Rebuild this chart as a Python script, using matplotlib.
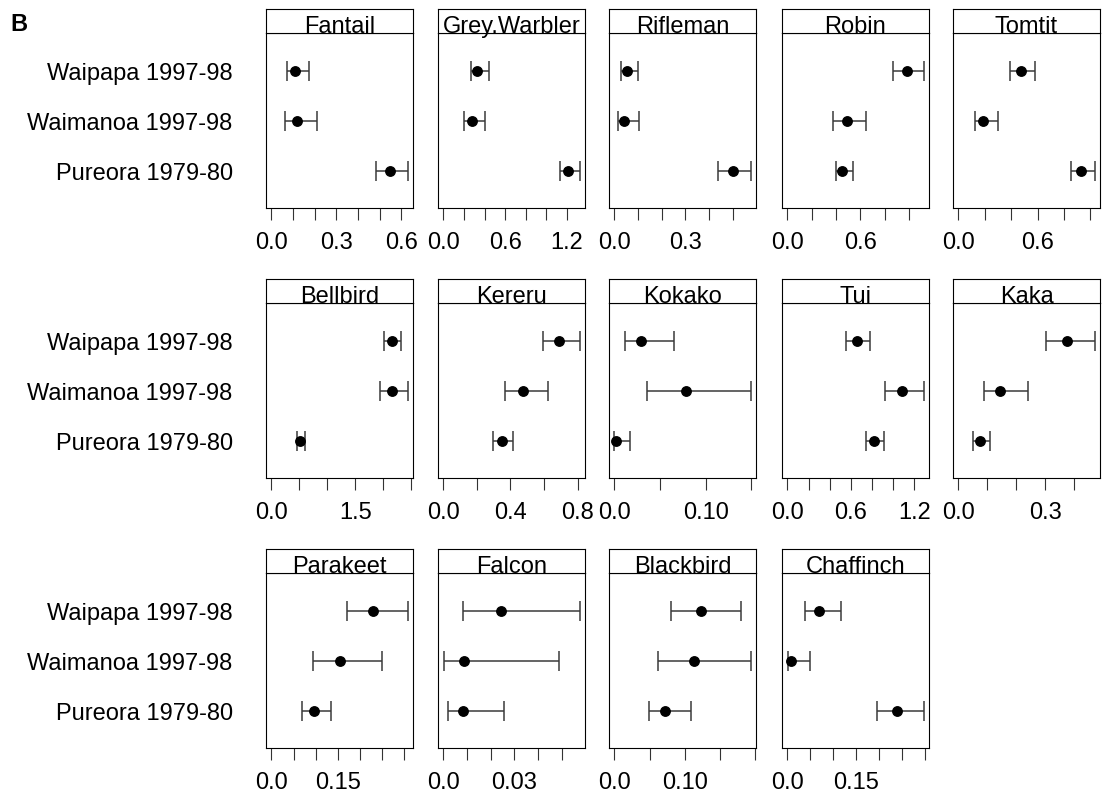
import numpy as np
import matplotlib
from matplotlib import pyplot as plt

matplotlib.use('Agg')

plt.rcParams['font.family'] = ['Liberation Sans', 'DejaVu Sans']
plt.rcParams['font.size'] = 17

species = ["Fantail", "Grey.Warbler", "Rifleman", "Robin", "Tomtit",
           "Bellbird", "Kereru", "Kokako", "Tui", "Kaka",
           "Parakeet", "Falcon", "Blackbird", "Chaffinch"]
sites = ["Waipapa 1997-98", "Waimanoa 1997-98", "Pureora 1979-80"]

# estimate and interval, one list per site (same order as species)
waipapa_est = [0.109, 0.33, 0.052, 0.984, 0.471, 2.151, 0.689, 0.029, 0.655, 0.377, 0.230, 0.0244, 0.123, 0.0677]
waipapa_lo = [0.072, 0.27, 0.028, 0.871, 0.391, 2.009, 0.591, 0.012, 0.557, 0.302, 0.172, 0.0081, 0.0805, 0.038]
waipapa_hi = [0.174, 0.44, 0.100, 1.12, 0.581, 2.323, 0.812, 0.065, 0.777, 0.471, 0.308, 0.0575, 0.181, 0.116]

waimanoa_est = [0.119, 0.273, 0.042, 0.486, 0.185, 2.151, 0.476, 0.078, 1.084, 0.144, 0.155, 0.0087, 0.1127, 0.0072]
waimanoa_lo = [0.064, 0.196, 0.015, 0.372, 0.123, 1.945, 0.368, 0.036, 0.921, 0.088, 0.094, 0.0003, 0.0616, 0.0014]
waimanoa_hi = [0.210, 0.404, 0.102, 0.643, 0.298, 2.434, 0.626, 0.149, 1.288, 0.241, 0.250, 0.049, 0.194, 0.049]

pureora_est = [0.549, 1.212, 0.500, 0.453, 0.932, 0.502, 0.347, 0.002, 0.818, 0.073, 0.0957, 0.0084, 0.0724, 0.238]
pureora_lo = [0.482, 1.135, 0.438, 0.396, 0.857, 0.449, 0.294, 0.0, 0.742, 0.052, 0.069, 0.0021, 0.0497, 0.195]
pureora_hi = [0.628, 1.321, 0.576, 0.541, 1.032, 0.608, 0.416, 0.0165, 0.912, 0.110, 0.135, 0.0254, 0.1098, 0.296]

# axis ticks per panel
tick_step = [0.1, 0.2, 0.1, 0.2, 0.2, 0.5, 0.2, 0.05, 0.2, 0.1, 0.05, 0.01, 0.05, 0.05]
label_vals = [[0, 0.3, 0.6], [0, 0.6, 1.2], [0, 0.3], [0, 0.6], [0, 0.6],
              [0, 1.5], [0, 0.4, 0.8], [0, 0.1], [0, 0.6, 1.2], [0, 0.3],
              [0, 0.15], [0, 0.03], [0, 0.1], [0, 0.15]]
label_text = [["0.0", "0.3", "0.6"], ["0.0", "0.6", "1.2"], ["0.0", "0.3"], ["0.0", "0.6"], ["0.0", "0.6"],
              ["0.0", "1.5"], ["0.0", "0.4", "0.8"], ["0.0", "0.10"], ["0.0", "0.6", "1.2"], ["0.0", "0.3"],
              ["0.0", "0.15"], ["0.0", "0.03"], ["0.0", "0.10"], ["0.0", "0.15"]]

W, H = 1103, 803
col_left = [266, 438, 609, 782, 953]
row_top = [10, 280, 550]
panel_w, strip_h, panel_h = 147, 24, 175


def draw_panel(fig, i):
    row, col = i // 5, i % 5
    x0 = col_left[col] / W
    top = row_top[row]
    ax = fig.add_axes([x0, 1 - (top + strip_h + panel_h) / H, panel_w / W, panel_h / H])
    strip = fig.add_axes([x0, 1 - (top + strip_h) / H, panel_w / W, strip_h / H])

    est = np.array([waipapa_est[i], waimanoa_est[i], pureora_est[i]])
    lo = np.array([waipapa_lo[i], waimanoa_lo[i], pureora_lo[i]])
    hi = np.array([waipapa_hi[i], waimanoa_hi[i], pureora_hi[i]])
    ypos = [3, 2, 1]

    ax.errorbar(est, ypos, xerr=[est - lo, hi - est], fmt='o', color='black',
                ecolor='#3a3a3a', elinewidth=1.1, capsize=7, capthick=1.1,
                markersize=6.8)

    top_val = hi.max()
    pad = 0.04 * top_val
    ax.set_xlim(-pad, top_val + pad)
    ax.set_ylim(0.25, 3.75)

    ticks = np.arange(0, top_val + pad + 1e-9, tick_step[i])
    labels = [""] * len(ticks)
    for v, t in zip(label_vals[i], label_text[i]):
        k = int(round(v / tick_step[i]))
        if k < len(labels):
            labels[k] = t
    ax.set_xticks(ticks)
    ax.set_xticklabels(labels)
    ax.tick_params(axis='x', direction='out', length=8.5, width=0.8,
                   color='#333333', pad=8)

    ax.set_yticks(ypos)
    if col == 0:
        ax.set_yticklabels(sites)
    else:
        ax.set_yticklabels([])
    ax.tick_params(axis='y', length=0, pad=24)

    for s in ax.spines.values():
        s.set_linewidth(0.8)
    for s in strip.spines.values():
        s.set_linewidth(0.8)
    strip.set_xticks([])
    strip.set_yticks([])
    strip.text(0.5, 0.04, species[i], ha='center', va='baseline',
               transform=strip.transAxes)


if __name__ == "__main__":
    fig = plt.figure(figsize=(W / 100, H / 100), dpi=100)
    for i in range(len(species)):
        draw_panel(fig, i)
    fig.text(10 / W, 1 - 31 / H, "B", fontweight='bold', ha='left', va='baseline')
    fig.savefig("out.png", dpi=100)
